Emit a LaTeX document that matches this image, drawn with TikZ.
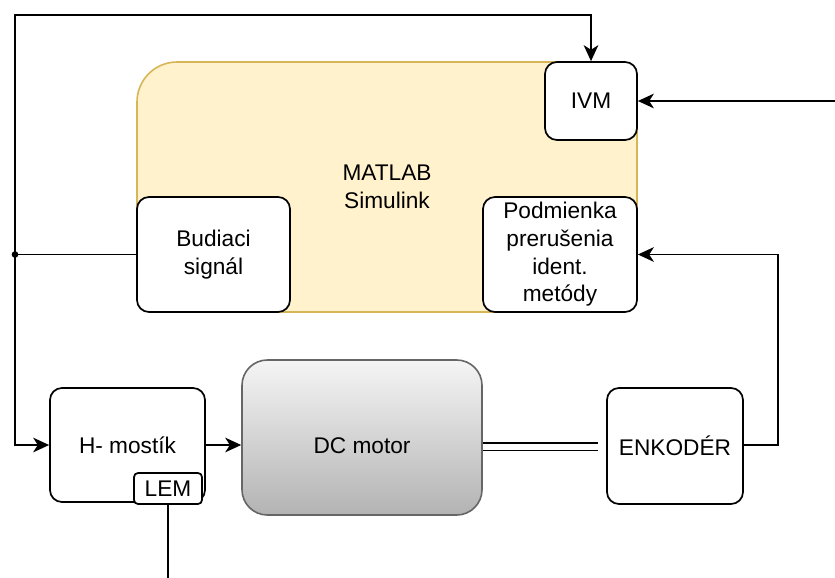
\documentclass[tikz,border=0pt]{standalone}
\usepackage{fontspec}
\setmainfont{Liberation Sans}
\usetikzlibrary{arrows.meta}
\definecolor{simfill}{HTML}{FFF2CC}
\definecolor{simline}{HTML}{D6B656}
\definecolor{dctop}{HTML}{F5F5F5}
\definecolor{dcbot}{HTML}{B3B3B3}
\definecolor{dcline}{HTML}{666666}
\begin{document}
\begin{tikzpicture}
	[x=0.75pt,y=-0.75pt,
	every node/.style={font=\fontsize{17}{20.8}\selectfont, align=center, inner sep=0pt},
	blok/.style={draw=black, line width=1.3pt, fill=white, rounded corners=9pt},
	spoj/.style={line width=1.3pt, -{Stealth[length=12pt,width=11pt,inset=3.5pt]}}]
	\useasboundingbox (0,0) rectangle (835,578);

	% MATLAB Simulink
	\node[draw=simline, fill=simfill, line width=1.2pt, rounded corners=30pt,
	      minimum width=375pt, minimum height=187.5pt] (sim) at (387,187) {MATLAB\\Simulink};
	\node[blok, minimum width=69pt, minimum height=58.5pt] (ivm) at (591,101) {IVM};
	\node[blok, minimum width=114.75pt, minimum height=86.25pt] (bud) at (213.5,254.5) {Budiaci\\signál};
	\node[blok, minimum width=115.5pt, minimum height=86.25pt] (pod) at (560,254.5) {Podmienka\\prerušenia\\ident.\\metódy};

	% spodny rad
	\node[blok, minimum width=116.25pt, minimum height=85.5pt] (hm) at (127.5,445) {H- mostík};
	\node[blok, rounded corners=3pt, minimum width=51pt, minimum height=23.25pt] (lem) at (168,488.5) {LEM};
	\node[draw=dcline, line width=1.2pt, top color=dctop, bottom color=dcbot, rounded corners=19pt,
	      minimum width=180pt, minimum height=116.25pt] (dc) at (362,437.5) {};
	\node (dctxt) at (362,446) {DC motor};
	\node[blok, minimum width=102pt, minimum height=87pt] (enk) at (675,446) {ENKODÉR};

	\node[circle, fill=black, minimum size=5pt] (uzol) at (15,254.5) {};
	\coordinate (hore) at (15,15);
	\coordinate (vstup) at (835,101);
	\coordinate (vpravo) at (778,445);
	\coordinate (hridel) at (598,446.5);
	\coordinate (dole) at (168,578);

	\draw[line width=1.3pt] (bud.west) -- (uzol.center);
	\draw[spoj] (uzol.center) -- (hore) -| (ivm.north);
	\draw[spoj] (uzol.center) |- (hm.west);
	\draw[spoj] (hm.east) -- (dc.west |- hm.east);
	\draw[spoj] (vstup) -- (ivm.east);
	\draw[spoj] (enk.east |- vpravo) -- (vpravo) |- (pod.east);
	\draw[line width=1.3pt] (lem.south) -- (dole);
	\draw[line width=1pt, double, double distance=4.5pt] (dc.east |- hridel) -- (hridel);
\end{tikzpicture}
\end{document}
